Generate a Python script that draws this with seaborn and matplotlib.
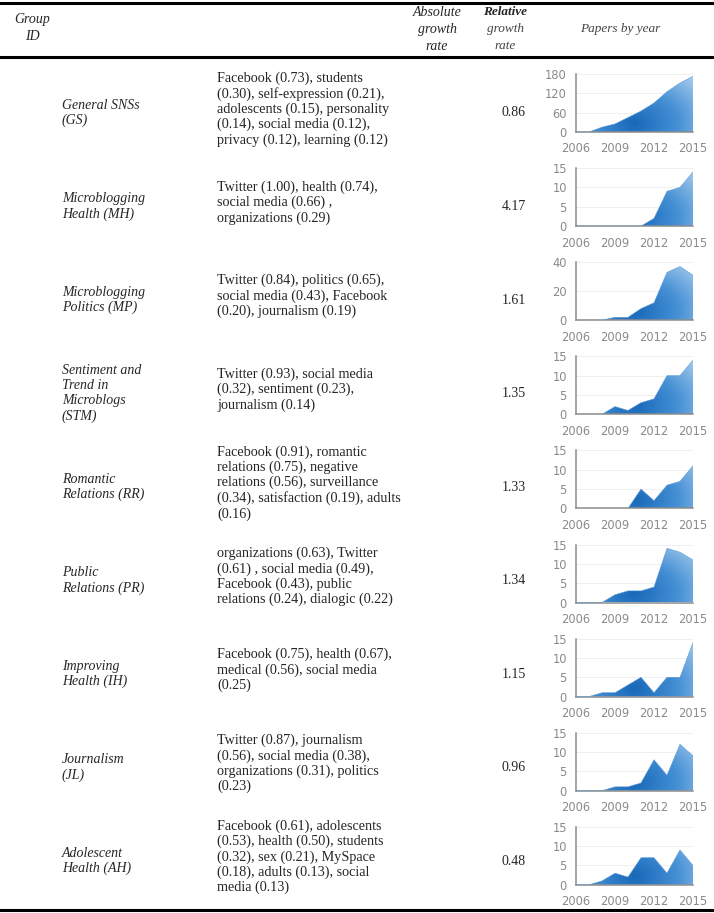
import numpy as np
import pandas as pd
import matplotlib.pyplot as plt
import matplotlib.lines as mlines
from matplotlib.colors import LinearSegmentedColormap
import seaborn as sns

sns.set_theme(style="white")
plt.rcParams['font.family'] = ['Liberation Serif', 'DejaVu Serif']

# Dados da tabela
anos = [2006, 2007, 2008, 2009, 2010, 2011, 2012, 2013, 2014, 2015]

grupos = ["General SNSs\n(GS)", "Microblogging\nHealth (MH)", "Microblogging\nPolitics (MP)",
          "Sentiment and\nTrend in\nMicroblogs\n(STM)", "Romantic\nRelations (RR)",
          "Public\nRelations (PR)", "Improving\nHealth (IH)", "Journalism\n(JL)",
          "Adolescent\nHealth (AH)"]

palavras = [
    "Facebook (0.73), students\n(0.30), self-expression (0.21),\nadolescents (0.15), personality\n(0.14), social media (0.12),\nprivacy (0.12), learning (0.12)",
    "Twitter (1.00), health (0.74),\nsocial media (0.66) ,\norganizations (0.29)",
    "Twitter (0.84), politics (0.65),\nsocial media (0.43), Facebook\n(0.20), journalism (0.19)",
    "Twitter (0.93), social media\n(0.32), sentiment (0.23),\njournalism (0.14)",
    "Facebook (0.91), romantic\nrelations (0.75), negative\nrelations (0.56), surveillance\n(0.34), satisfaction (0.19), adults\n(0.16)",
    "organizations (0.63), Twitter\n(0.61) , social media (0.49),\nFacebook (0.43), public\nrelations (0.24), dialogic (0.22)",
    "Facebook (0.75), health (0.67),\nmedical (0.56), social media\n(0.25)",
    "Twitter (0.87), journalism\n(0.56), social media (0.38),\norganizations (0.31), politics\n(0.23)",
    "Facebook (0.61), adolescents\n(0.53), health (0.50), students\n(0.32), sex (0.21), MySpace\n(0.18), adults (0.13), social\nmedia (0.13)",
]

relativo = ["0.86", "4.17", "1.61", "1.35", "1.33", "1.34", "1.15", "0.96", "0.48"]

papers_gs = [0, 0, 15, 25, 45, 65, 90, 125, 152, 173]
papers_mh = [0, 0, 0, 0, 0, 0, 2, 9, 10, 14]
papers_mp = [0, 0, 0, 2, 2, 8, 12, 33, 37, 31]
papers_stm = [0, 0, 0, 2, 1, 3, 4, 10, 10, 14]
papers_rr = [0, 0, 0, 0, 0, 5, 2, 6, 7, 11]
papers_pr = [0, 0, 0, 2, 3, 3, 4, 14, 13, 11]
papers_ih = [0, 0, 1, 1, 3, 5, 1, 5, 5, 14]
papers_jl = [0, 0, 0, 1, 1, 2, 8, 4, 12, 9]
papers_ah = [0, 0, 1, 3, 2, 7, 7, 3, 9, 5]

series = [papers_gs, papers_mh, papers_mp, papers_stm, papers_rr,
          papers_pr, papers_ih, papers_jl, papers_ah]
yticks_list = [[0, 60, 120, 180], [0, 5, 10, 15], [0, 20, 40], [0, 5, 10, 15],
               [0, 5, 10, 15], [0, 5, 10, 15], [0, 5, 10, 15], [0, 5, 10, 15],
               [0, 5, 10, 15]]

W, H = 714, 913
fig = plt.figure(figsize=(W / 100, H / 100), dpi=100)
fig.patch.set_facecolor('white')


def fy(py):
    return 1 - py / H


def fx(px):
    return px / W


# Linhas da tabela
for py, lw in [(3, 2.2), (57, 2.2), (910, 2.2)]:
    fig.add_artist(mlines.Line2D([0, 1], [fy(py), fy(py)], color='black', lw=lw,
                                 transform=fig.transFigure))

# Cabeçalho
fig.text(fx(32), fy(20), "Group", ha='center', va='center', fontsize=10, style='italic')
fig.text(fx(32), fy(37), "ID", ha='center', va='center', fontsize=10, style='italic')
for py, t in zip([12, 29, 46], ["Absolute", "growth", "rate"]):
    fig.text(fx(437), fy(py), t, ha='center', va='center', fontsize=10, style='italic')
fig.text(fx(505), fy(12), "Relative", ha='center', va='center', fontsize=9.5,
         style='italic', fontweight='bold')
for py, t in zip([29, 46], ["growth", "rate"]):
    fig.text(fx(505), fy(py), t, ha='center', va='center', fontsize=9.5,
             style='italic', color='#444444')
fig.text(fx(620), fy(29), "Papers by year", ha='center', va='center', fontsize=9.5,
         style='italic', color='#444444')

cmap = LinearSegmentedColormap.from_list('azul', ['#1868b9', '#4590d5', '#aacdee'])
cinza = '#8c8c8c'

for i in range(len(grupos)):
    cy = 113 + i * 93.5
    fig.text(fx(62), fy(cy), grupos[i], ha='left', va='center', fontsize=10,
             style='italic', linespacing=1.2)
    fig.text(fx(217), fy(cy - 4), palavras[i], ha='left', va='center', fontsize=10.2,
             linespacing=1.18)
    fig.text(fx(514), fy(cy), relativo[i], ha='center', va='center', fontsize=10)

    # Sparkline
    bottom = 132 + i * 94.1
    ax = fig.add_axes([fx(576), fy(bottom), fx(117), 58 / H])
    df = pd.DataFrame({'ano': anos, 'papers': series[i]})
    ymax = yticks_list[i][-1]
    poly = ax.fill_between(df['ano'], df['papers'], color='none', lw=0)
    uu, vv = np.meshgrid(np.linspace(0, 1, 200), np.linspace(0, 1, 100))
    dist = np.sqrt(((uu - 0.5) / 0.75) ** 2 + ((vv - 0.15) / 1.1) ** 2)
    im = ax.imshow(dist, extent=[2006, 2015, 0, ymax], origin='lower', aspect='auto',
                   cmap=cmap, vmin=0, vmax=1, zorder=2)
    im.set_clip_path(poly.get_paths()[0], transform=ax.transData)
    sns.lineplot(data=df, x='ano', y='papers', ax=ax, color='#5b9ad8', lw=0.4, zorder=3)
    ax.set_xlim(2006, 2015)
    ax.set_ylim(0, ymax)
    ax.set_yticks(yticks_list[i])
    ax.set_xticks(anos, minor=True)
    ax.set_xticks([2006, 2009, 2012, 2015])
    ax.set_xlabel('')
    ax.set_ylabel('')
    for yt in yticks_list[i][1:]:
        ax.axhline(yt, color='#efefef', lw=0.7, zorder=1)
    for s in ['top', 'right']:
        ax.spines[s].set_visible(False)
    for s in ['left', 'bottom']:
        ax.spines[s].set_color(cinza)
        ax.spines[s].set_linewidth(1.1)
    ax.tick_params(axis='both', which='both', length=3.5, width=1.1, color=cinza,
                   direction='out', labelcolor='#8a8a8a', labelsize=8.3, pad=3)
    ax.tick_params(axis='x', which='major', pad=4)
    for lab in ax.get_xticklabels() + ax.get_yticklabels():
        lab.set_fontfamily('DejaVu Sans')
    ax.set_facecolor('none')

plt.savefig('out.png', dpi=100, facecolor='white')
